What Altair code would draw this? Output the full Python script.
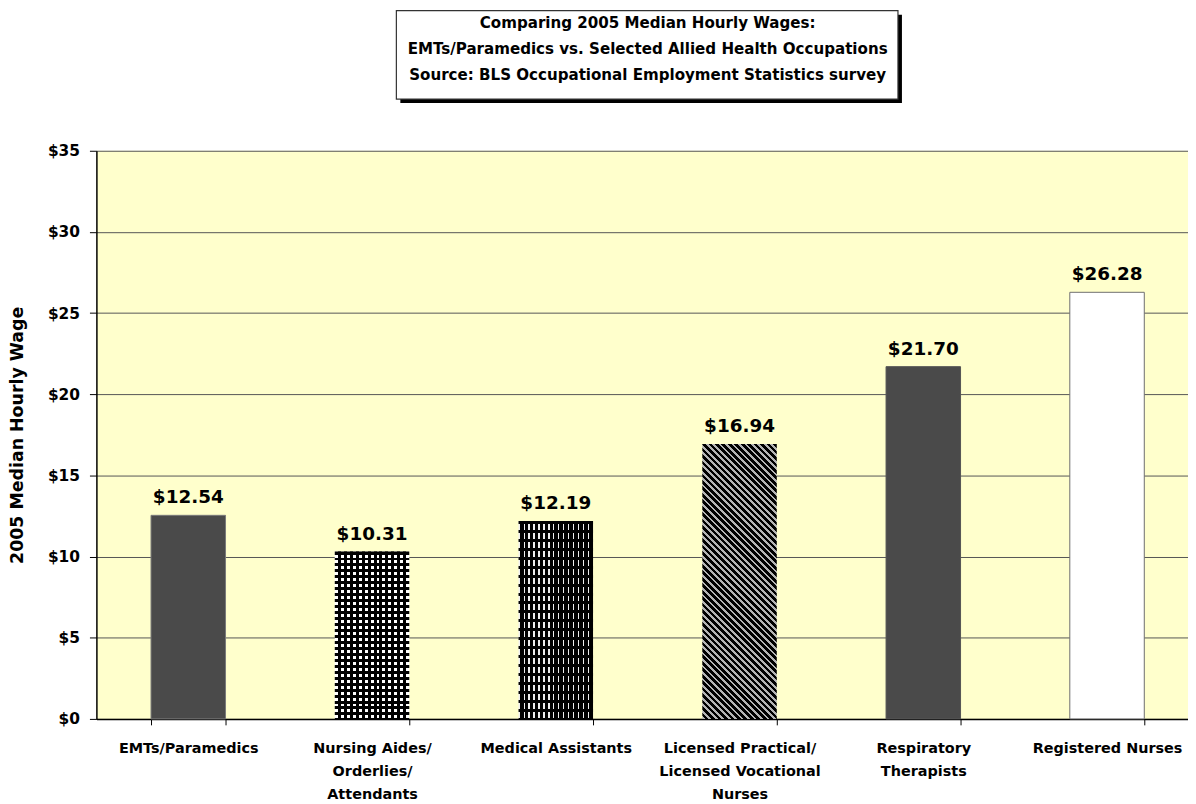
import math
import altair as alt
import pandas as pd

# ---------------- data ----------------
CATEGORIES = [
    "EMTs/Paramedics",
    "Nursing Aides/\nOrderlies/\nAttendants",
    "Medical Assistants",
    "Licensed Practical/\nLicensed Vocational\nNurses",
    "Respiratory\nTherapists",
    "Registered Nurses",
]
WAGES = [12.54, 10.31, 12.19, 16.94, 21.70, 26.28]
Y_TICKS = [0, 5, 10, 15, 20, 25, 30, 35]
TITLE_LINES = [
    "Comparing 2005 Median Hourly Wages:",
    "EMTs/Paramedics vs. Selected Allied Health Occupations",
    "Source: BLS Occupational Employment Statistics survey",
]
Y_TITLE = "2005 Median Hourly Wage"

# ---------------- style ----------------
FONT = "DejaVu Sans"
PLOT_W = 1099
PLOT_H = 572
Y_MAX = 35
STEP = 185
BAR_W = 75
PAD_IN = 1 - BAR_W / STEP
BG = "#FFFFCC"
DARK = "#4a4a4a"
TRANSPARENT = "rgba(0,0,0,0)"

df = pd.DataFrame({"category": CATEGORIES, "wage": WAGES})


def stripe_stops(length, period, on, on_color, off_color):
    segs = []
    k = 0
    while True:
        a = k * period
        if a >= length:
            break
        b = min(a + on, length)
        c = min(a + period, length)
        segs.append((a, b, on_color))
        if c > b:
            segs.append((b, c, off_color))
        k += 1
    stops = []
    for s, e, col in segs:
        stops.append({"offset": round(s / length, 5), "color": col})
        stops.append({"offset": round(e / length, 5), "color": col})
    return stops


def vertical_stripes(period, on, on_color, off_color):
    return {"gradient": "linear", "x1": 0, "y1": 0, "x2": 1, "y2": 0,
            "stops": stripe_stops(BAR_W, period, on, on_color, off_color)}


def horizontal_stripes(value, period, on, on_color, off_color):
    h = value * PLOT_H / Y_MAX
    return {"gradient": "linear", "x1": 0, "y1": 0, "x2": 0, "y2": 1,
            "stops": stripe_stops(h, period, on, on_color, off_color)}


def diagonal_stripes(value, period, on, on_color, off_color):
    w = BAR_W
    h = value * PLOT_H / Y_MAX
    k = (w + h) / (w * w + h * h)
    length = (w + h) / math.sqrt(2)
    return {"gradient": "linear", "x1": 0, "y1": 1, "x2": k * w, "y2": 1 - k * h,
            "stops": stripe_stops(length, period, on, on_color, off_color)}


x_axis = alt.Axis(
    labelExpr="isValid(datum.value) ? split(datum.value, '\\n') : ''",
    labelAngle=0,
    labelFont=FONT,
    labelFontSize=14.5,
    labelFontWeight="bold",
    labelColor="black",
    labelLineHeight=23,
    labelPadding=17,
    labelLimit=260,
    domainColor="black",
    domainWidth=1.5,
    tickColor="black",
    tickSize=6,
    tickBand="extent",
    grid=False,
    title=None,
)

y_axis = alt.Axis(
    values=Y_TICKS,
    format="$.0f",
    grid=True,
    gridColor="#555555",
    gridWidth=1,
    domainColor="black",
    domainWidth=1.5,
    tickColor="black",
    tickSize=7,
    labelPadding=10,
    labelFont=FONT,
    labelFontSize=15.5,
    labelFontWeight="bold",
    labelColor="black",
    title=Y_TITLE,
    titleFont=FONT,
    titleFontSize=17.5,
    titleFontWeight="bold",
    titleColor="black",
    titleX=-70,
    titleY=PLOT_H / 2,
)


def X():
    return alt.X(
        "category:N",
        sort=CATEGORIES,
        scale=alt.Scale(domain=CATEGORIES, range=[0, STEP * len(CATEGORIES)],
                        paddingInner=PAD_IN, paddingOuter=PAD_IN / 2),
        axis=x_axis,
    )


def Y():
    return alt.Y("wage:Q", scale=alt.Scale(domain=[0, Y_MAX], nice=False), axis=y_axis)


def bar_layer(i, fill, stroke=None):
    kw = {"fill": fill}
    if stroke:
        kw["stroke"] = stroke
        kw["strokeWidth"] = 1
    return alt.Chart(df.iloc[[i]]).mark_bar(**kw).encode(x=X(), y=Y())


layers = [
    bar_layer(0, DARK, "#7a7a7a"),
    # Nursing aides: white dots on black
    bar_layer(1, vertical_stripes(6, 3.0, "#ffffff", "#000000")),
    bar_layer(1, horizontal_stripes(WAGES[1], 6, 3.0, "#000000", TRANSPARENT)),
    # Medical assistants: black with thin white dashes
    bar_layer(2, vertical_stripes(5, 1.2, "#eeeeee", "#000000")),
    bar_layer(2, horizontal_stripes(WAGES[2], 9, 3.0, "#000000", TRANSPARENT)),
    # LPN: diagonal stripes
    bar_layer(3, diagonal_stripes(WAGES[3], 4.6, 2.0, "#b4b4b4", "#000000")),
    bar_layer(4, DARK, "#555555"),
    bar_layer(5, "#ffffff", "#6e6e6e"),
]

labels = alt.Chart(df).mark_text(
    font=FONT, fontSize=18.5, fontWeight="bold", color="black",
    baseline="alphabetic", dy=-12,
).encode(x=X(), y=Y(), text=alt.Text("wage:Q", format="$.2f"))

one = pd.DataFrame({"k": [0]})
box_shadow = alt.Chart(one).mark_rect(fill="black").encode(
    x=alt.value(306), x2=alt.value(811), y=alt.value(-137), y2=alt.value(-48))
box = alt.Chart(one).mark_rect(fill="white", stroke="#333333", strokeWidth=1.2).encode(
    x=alt.value(302), x2=alt.value(807), y=alt.value(-141), y2=alt.value(-52))
box_text = alt.Chart(one).mark_text(
    font=FONT, fontSize=15.2, fontWeight="bold", color="black",
    align="center", baseline="middle", lineHeight=26.5,
).encode(x=alt.value(555), y=alt.value(-129), text=alt.value(TITLE_LINES))

chart = alt.layer(*layers, labels, box_shadow, box, box_text).properties(
    width=PLOT_W,
    height=PLOT_H,
    padding={"left": 89, "top": 141, "right": 0, "bottom": 90},
    autosize=alt.AutoSizeParams(type="none"),
    background="white",
).configure_view(fill=BG, strokeWidth=0)

chart.save("out.html", embed_options={"renderer": "svg", "actions": False})
